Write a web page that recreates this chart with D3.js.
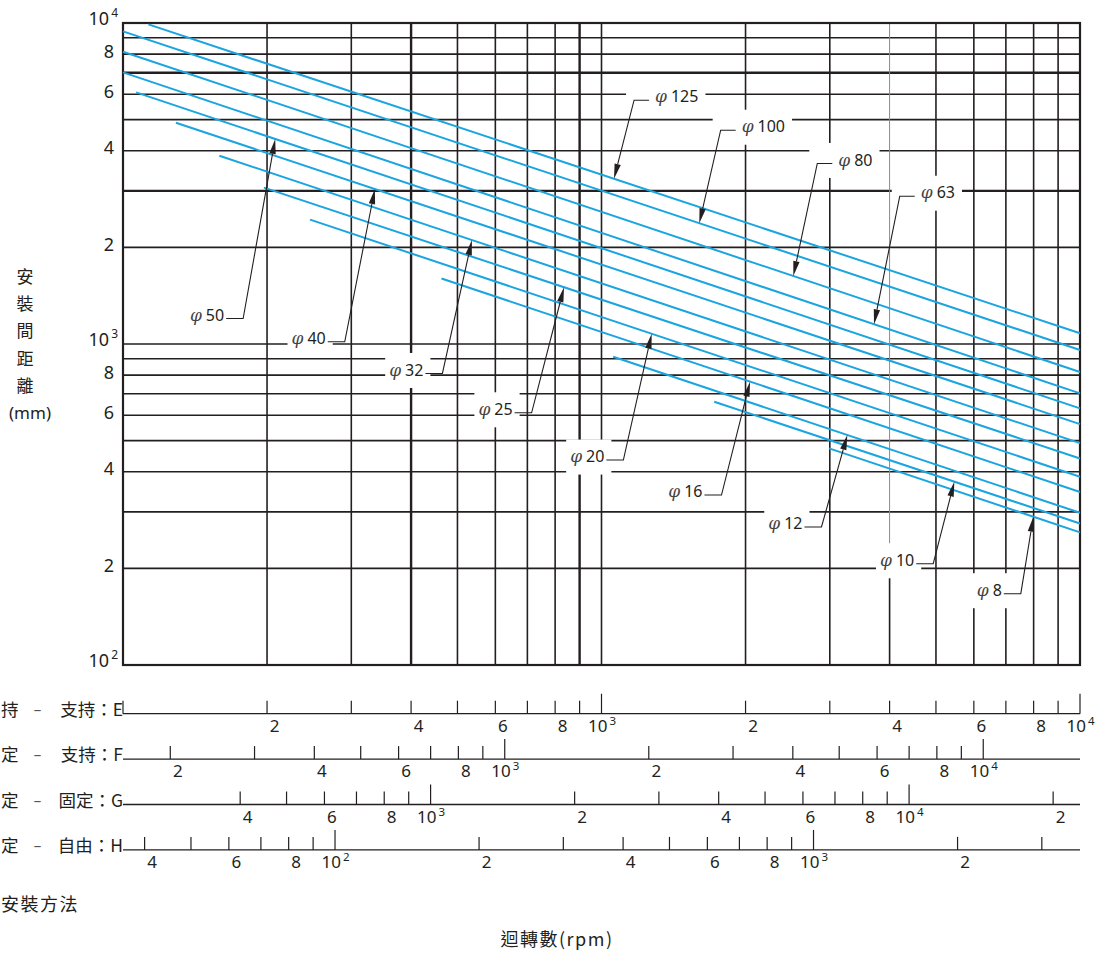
<!DOCTYPE html>
<html><head><meta charset="utf-8">
<script src="https://cdn.jsdelivr.net/npm/d3@7"></script>
<style>body{margin:0;background:#fff} svg{display:block}</style>
</head><body>
<svg id="c" width="1104" height="956"></svg>
<script>
// ---------------- data ----------------
const diameters     = ["125","100","80","63","50","40","32","25","20","16","12","10","8"];
const lineStartRpm  = [113, 100, 100, 100, 106.5, 129, 159, 197, 246, 463, 1058, 1720, 2990];
const lineStartLen  = [9900, 9420, 8140, 7020, 6080, 4890, 3860, 3070, 2440, 1600, 913, 661, 473];
const lineEndRpm    = [10000,10000,10000,10000,10000,10000,10000,10000,10000,10000,10000,10000,10000];
const lineEndLen    = [1080, 958, 818, 702, 630, 563, 491, 440, 386, 346, 298, 276, 259];

// annotation labels (text left edge / centre in data units) and arrow tips
const labelRpm   = [1294, 1963, 3125, 4647, 138, 225, 360, 553, 860, 1379, 2231, 3820, 6084];
const labelLen   = [5893, 4752, 3744, 2960, 1231, 1042, 830, 626, 446, 347, 276, 212, 171];
const tipRpm     = [1062, 1601, 2517, 3711, 208, 336, 536, 835, 1273, 2044, 3264, 5462, 7989];
const leaderSide = ["left","left","left","left","right","right","right","right","right","right","right","right","right"];

// grid
const rpmGrid   = [200,300,400,500,600,700,800,900,1000,2000,3000,4000,5000,6000,7000,8000,9000];
const lenGrid   = [200,300,400,500,600,700,800,900,1000,2000,3000,4000,5000,6000,7000,8000,9000];
const rpmThick  = [400, 900];
const lenThick  = [3000, 7000];
const rpmGray   = [4000];
const lenTickLabels = [100,200,400,600,800,1000,2000,4000,6000,8000,10000];

// mounting-method scales (visible part of the labels)
const methodLeft  = ["持","定","定","定"];
const methodRight = ["支持：E","支持：F","固定：G","自由：H"];
const axisFactor  = [1, 1.593, 2.276, 0.3605];
const axisTicks = [
  [100,200,300,400,500,600,700,800,900,1000,2000,3000,4000,5000,6000,7000,8000,9000,10000],
  [200,300,400,500,600,700,800,900,1000,2000,3000,4000,5000,6000,7000,8000,9000,10000],
  [400,500,600,700,800,900,1000,2000,3000,4000,5000,6000,7000,8000,9000,10000,20000],
  [40,50,60,70,80,90,100,200,300,400,500,600,700,800,900,1000,2000,3000]
];
const axisLongTicks = [[1000,10000],[1000,10000],[1000,10000],[100,1000]];

const yTitleChars = ["安","裝","間","距","離","(mm)"];
const xTitle = "迴轉數(rpm)";
const methodTitle = "安裝方法";

// ---------------- drawing ----------------
const svg = d3.select("#c");
const ink = "#231f20", blue = "#1aa5e0";
const sans = "'Noto Sans','Open Sans',sans-serif";
const cjk  = "'Noto Sans CJK TC','Noto Sans CJK SC',sans-serif";
const serif = "'DejaVu Serif','Liberation Serif',serif";

const x = d3.scaleLog().domain([100, 10000]).range([123, 1080]);
const y = d3.scaleLog().domain([100, 10000]).range([665, 23]);

const gGrid = svg.append("g");
const gBox  = svg.append("g");
const gBlue = svg.append("g");
const gAnno = svg.append("g");
const gAx   = svg.append("g");

// horizontal grid
gGrid.selectAll("line.h").data(lenGrid).join("line")
  .attr("x1", x(100)).attr("x2", x(10000))
  .attr("y1", d => y(d)).attr("y2", d => y(d))
  .attr("stroke", ink).attr("stroke-width", d => lenThick.includes(d) ? 2.4 : 1.6);
// vertical grid
gGrid.selectAll("line.v").data(rpmGrid).join("line")
  .attr("y1", y(10000)).attr("y2", y(100))
  .attr("x1", d => x(d)).attr("x2", d => x(d))
  .attr("stroke", d => rpmGray.includes(d) ? "#8a8a8a" : ink)
  .attr("stroke-width", d => rpmThick.includes(d) ? 2.4 : (rpmGray.includes(d) ? 1 : 1.6));
gGrid.selectAll("line.vg").data(rpmGray).join("line")
  .attr("y1", y(200)).attr("y2", y(100))
  .attr("x1", d => x(d)).attr("x2", d => x(d))
  .attr("stroke", ink).attr("stroke-width", 1.6);
// frame
gGrid.append("rect")
  .attr("x", x(100)).attr("y", y(10000))
  .attr("width", x(10000) - x(100)).attr("height", y(100) - y(10000))
  .attr("fill", "none").attr("stroke", ink).attr("stroke-width", 2.2);

// y tick labels
lenTickLabels.forEach(v => {
  const e = Math.round(Math.log10(v));
  const m = Math.round(v / Math.pow(10, Math.floor(Math.log10(v) + 1e-9)));
  const t = gAx.append("text").attr("fill", ink).attr("font-family", sans)
    .attr("font-size", 18).attr("text-anchor", "end");
  if (m === 1) {
    t.attr("x", 118).attr("y", y(v) + 2);
    t.append("tspan").text("10");
    t.append("tspan").attr("font-size", 12).attr("dy", -8).attr("dx", 2).text(e);
  } else {
    t.attr("x", 114).attr("y", y(v) + 3.4).text(m);
  }
});

// y title
yTitleChars.forEach((c, i) => {
  gAx.append("text").attr("x", c.length > 1 ? 30 : 25).attr("y", 277 + i * 27.2 + 6)
    .attr("text-anchor", "middle").attr("fill", ink)
    .attr("font-family", c.length > 1 ? sans : cjk).attr("font-size", 17).text(c);
});

// blue lines
gBlue.selectAll("line").data(diameters).join("line")
  .attr("x1", (d, i) => x(lineStartRpm[i])).attr("y1", (d, i) => y(lineStartLen[i]))
  .attr("x2", (d, i) => x(lineEndRpm[i])).attr("y2", (d, i) => y(lineEndLen[i]))
  .attr("stroke", blue).attr("stroke-width", 2);

function lenOnLine(i, n) {
  const a = Math.log(lineStartRpm[i]), b = Math.log(lineEndRpm[i]);
  const t = (Math.log(n) - a) / (b - a);
  return Math.exp(Math.log(lineStartLen[i]) + t * (Math.log(lineEndLen[i]) - Math.log(lineStartLen[i])));
}

// annotations
diameters.forEach((d, i) => {
  const tx = x(labelRpm[i]), cy = y(labelLen[i]);
  const t = gAnno.append("text").attr("x", tx).attr("y", cy + 5.7).attr("fill", ink);
  t.append("tspan").attr("font-family", serif).attr("font-style", "italic")
    .attr("font-size", 17).attr("fill", "#444").text("φ");
  t.append("tspan").attr("font-family", sans).attr("font-size", 16).attr("dx", 4).text(d);
  const bb = t.node().getBBox();
  const right = bb.x + bb.width;
  const ly = cy + 3.5;
  let hStart, corner, boxL;
  if (leaderSide[i] === "left") { hStart = tx - 6; corner = tx - 21; boxL = corner - 8; }
  else { hStart = right + 2; corner = right + 19; boxL = tx - 4; }
  gBox.append("rect").attr("x", boxL).attr("y", cy - 17)
    .attr("width", right + 7 - boxL).attr("height", 35).attr("fill", "#fff");
  const px = x(tipRpm[i]), py = y(lenOnLine(i, tipRpm[i]));
  const dx = px - corner, dy = py - ly, L = Math.hypot(dx, dy);
  const ux = dx / L, uy = dy / L, al = 15, aw = 3.2;
  const bx = px - ux * al, by = py - uy * al;
  gAnno.append("polyline")
    .attr("points", [[hStart, ly], [corner, ly], [bx, by]].map(p => p.join(",")).join(" "))
    .attr("fill", "none").attr("stroke", ink).attr("stroke-width", 1.1);
  gAnno.append("path")
    .attr("d", `M${px},${py}L${bx - uy * aw},${by + ux * aw}L${bx + uy * aw},${by - ux * aw}Z`)
    .attr("fill", ink);
});

// mounting-method axes
axisFactor.forEach((f, i) => {
  const ya = 713.7 + i * 45.4;
  const xs = d3.scaleLog().domain([100 * f, 10000 * f]).range([123, 1080]);
  const g = gAx.append("g");
  g.append("line").attr("x1", 123).attr("x2", 1080).attr("y1", ya).attr("y2", ya)
    .attr("stroke", ink).attr("stroke-width", 1.3);
  const longs = axisLongTicks[i];
  g.selectAll("line.t").data(axisTicks[i]).join("line")
    .attr("x1", v => xs(v)).attr("x2", v => xs(v))
    .attr("y1", ya).attr("y2", v => ya - (longs.includes(v) ? 20 : 13))
    .attr("stroke", ink).attr("stroke-width", 1.2);
  axisTicks[i].forEach(v => {
    const e = Math.floor(Math.log10(v) + 1e-9);
    const m = Math.round(v / Math.pow(10, e));
    if (longs.includes(v)) {
      const t = g.append("text").attr("x", xs(v) - 13.5).attr("y", ya + 18.3)
        .attr("font-family", sans).attr("font-size", 17).attr("fill", ink);
      t.append("tspan").text("10");
      t.append("tspan").attr("font-size", 11.5).attr("dy", -7).attr("dx", 2).text(e);
    } else if (m % 2 === 0) {
      g.append("text").attr("x", xs(v) + 7.5).attr("y", ya + 18.3)
        .attr("text-anchor", "middle").attr("font-family", sans)
        .attr("font-size", 17).attr("fill", ink).text(m);
    }
  });
  // method label
  g.append("text").attr("x", 123).attr("y", ya + 2).attr("text-anchor", "end")
    .attr("font-family", cjk).attr("font-size", 17.5).attr("fill", ink).text(methodRight[i]);
  g.append("text").attr("x", 37.5).attr("y", ya + 1).attr("text-anchor", "middle")
    .attr("font-family", sans).attr("font-size", 15).attr("fill", "#555").text("–");
  g.append("text").attr("x", 1).attr("y", ya + 2).attr("text-anchor", "start")
    .attr("font-family", cjk).attr("font-size", 17.5).attr("fill", ink).text(methodLeft[i]);
});

gAx.append("text").attr("x", 1).attr("y", 911).attr("font-family", cjk)
  .attr("font-size", 18).attr("letter-spacing", 1.5).attr("fill", ink).text(methodTitle);
gAx.append("text").attr("x", 557).attr("y", 946).attr("text-anchor", "middle")
  .attr("font-family", cjk).attr("font-size", 18).attr("letter-spacing", 1.5)
  .attr("fill", ink).text(xTitle);
</script>
</body></html>
